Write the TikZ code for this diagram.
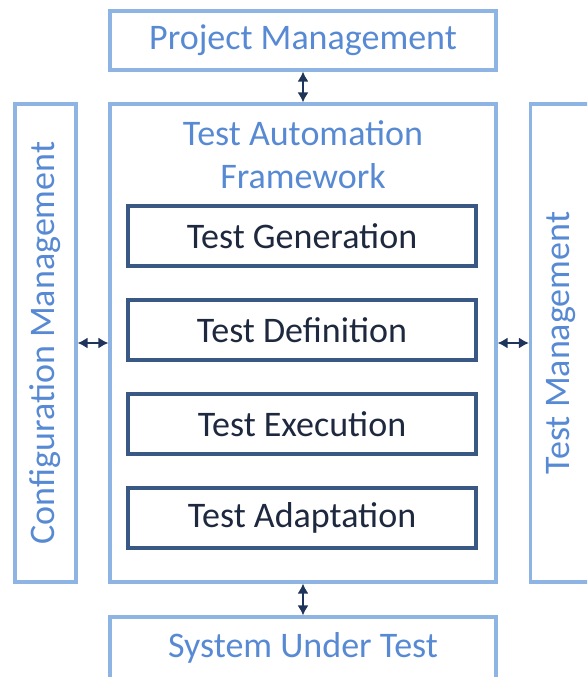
\documentclass[tikz,border=0pt]{standalone}
\usepackage{fontspec}
\setmainfont{Carlito}
\usetikzlibrary{arrows.meta}
\definecolor{frameblue}{RGB}{142,180,227}
\definecolor{labelblue}{RGB}{88,138,212}
\definecolor{stepblue}{RGB}{58,88,132}
\definecolor{stepink}{RGB}{30,40,62}
\definecolor{linkblue}{RGB}{31,52,90}
\begin{document}
\begin{tikzpicture}[x=1pt, y=-1pt,
        outerbox/.style={draw=frameblue, line width=3.2pt, text=labelblue, inner sep=0pt,
                         font=\fontsize{36}{43}\selectfont},
        stepbox/.style={draw=stepblue, line width=3.2pt, text=stepink, inner sep=0pt,
                        minimum width=348pt, minimum height=60pt, font=\fontsize{36}{43}\selectfont},
        link/.style={{Latex[length=10pt,width=11pt]}-{Latex[length=10pt,width=11pt]}, draw=linkblue, line width=1.6pt}]
        \clip (0,0) rectangle (587,677);

        % Framework in the middle
        \node[outerbox, minimum width=386pt, minimum height=478pt] (taf) at (303,343) {};
        \node[text=labelblue, font=\fontsize{36}{43}\selectfont, align=center, anchor=north, inner sep=0pt] (tafname) at (303,120) {Test Automation\\Framework};

        % Steps inside the framework
        \node[stepbox] (gen) at (302,236) {Test Generation};
        \node[stepbox] (def) at (302,330) {Test Definition};
        \node[stepbox] (exe) at (302,424) {Test Execution};
        \node[stepbox] (ada) at (302,518) {Test Adaptation};

        % Boxes round the framework
        \node[outerbox, minimum width=386pt, minimum height=59pt] (pm) at (303,40.5) {Project Management};
        \node[outerbox, minimum width=386pt, minimum height=62pt] (sut) at (303,648) {System Under Test};
        \node[outerbox, minimum width=478pt, minimum height=61pt, rotate=90] (cm) at (45.5,343) {Configuration Management};
        \node[outerbox, minimum width=478pt, minimum height=61pt, rotate=90] (tm) at (561,343) {Test Management};

        % Links
        \draw[link] (pm.south) -- (taf.north);
        \draw[link] (taf.south) -- (sut.north);
        \draw[link] (cm.south) -- (taf.west);
        \draw[link] (taf.east) -- (tm.north);
    \end{tikzpicture}
\end{document}
